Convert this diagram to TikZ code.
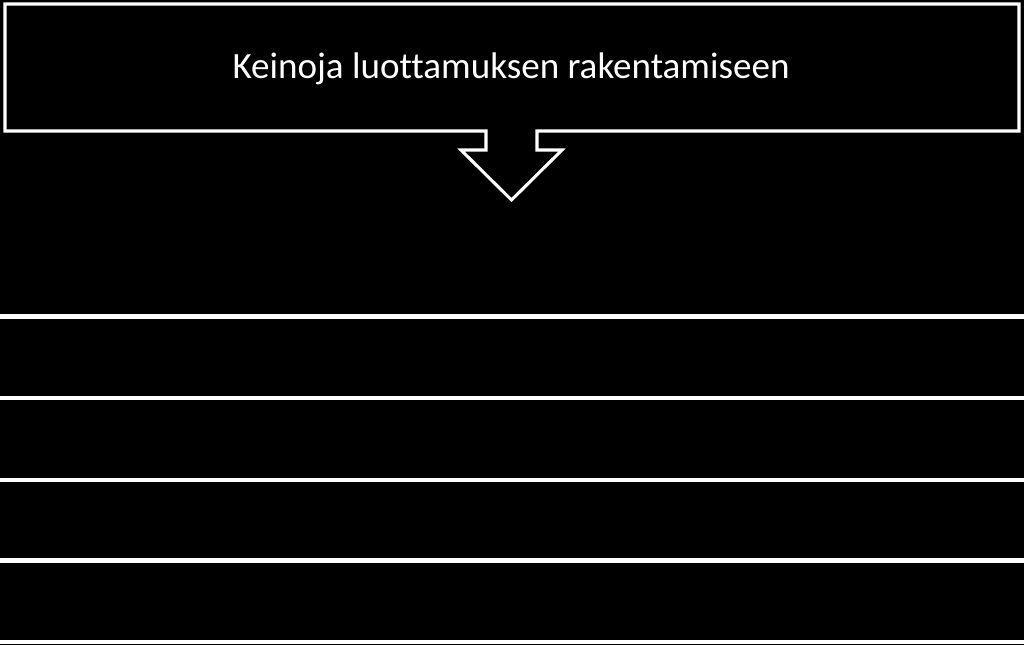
\documentclass[tikz,border=0pt]{standalone}
\usepackage{fontspec}
\setmainfont[Ligatures=NoCommon]{Carlito}
\usepackage{tikz}
\usetikzlibrary{calc,positioning}

\begin{document}
\begin{tikzpicture}[x=0.75pt,y=-0.75pt,
outline/.style={draw=white,line width=2.3pt,line join=miter},
rowline/.style={draw=white,line width=3.4pt},
text=white]
\fill[black] (0,0) rectangle (1024,645);
\useasboundingbox (0,0) rectangle (1024,645);
\draw[outline] (5,4) -- (1019,4) -- (1019,131) -- (537,131) -- (537,150) -- (562,150)
  -- (511.5,200) -- (461,150) -- (486,150) -- (486,131) -- (5,131) -- cycle;
\node (title) at (511,69){\fontsize{27.8pt}{32pt}\selectfont Keinoja luottamuksen rakentamiseen};
\draw[rowline] (0,316.5) -- (1024,316.5);
\draw[rowline] (0,398) -- (1024,398);
\draw[rowline] (0,480) -- (1024,480);
\draw[rowline] (0,560.5) -- (1024,560.5);
\draw[rowline] (0,642) -- (1024,642);
\end{tikzpicture}
\end{document}
